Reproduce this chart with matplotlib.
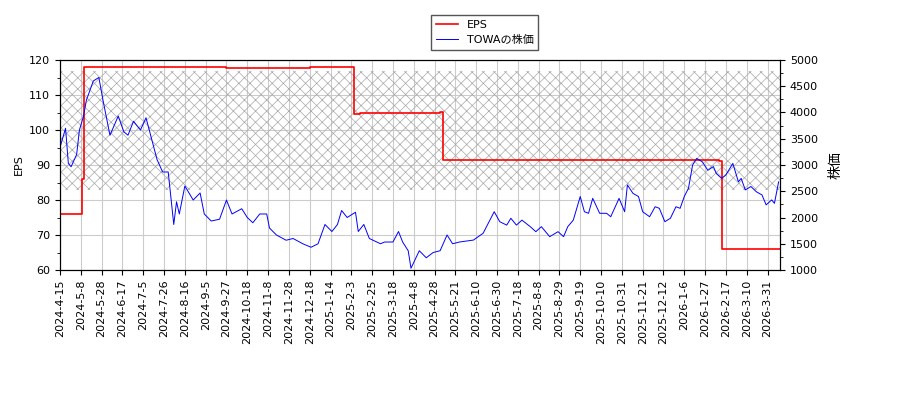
import matplotlib
matplotlib.use("Agg")
import matplotlib.pyplot as plt
from matplotlib.ticker import MultipleLocator

plt.rcParams['font.family'] = ['DejaVu Sans', 'Noto Sans CJK JP']
plt.rcParams['font.size'] = 8
plt.rcParams['hatch.linewidth'] = 0.5

tick_labels = ["2024-4-15","2024-5-8","2024-5-28","2024-6-17","2024-7-5","2024-7-26","2024-8-16",
               "2024-9-5","2024-9-27","2024-10-18","2024-11-8","2024-11-28","2024-12-18","2025-1-14",
               "2025-2-3","2025-2-25","2025-3-18","2025-4-8","2025-4-28","2025-5-21","2025-6-10",
               "2025-6-30","2025-7-18","2025-8-8","2025-8-29","2025-9-19","2025-10-10","2025-10-31",
               "2025-11-21","2025-12-12","2026-1-6","2026-1-27","2026-2-17","2026-3-10","2026-3-31"]
tick_step = 15  # trading days between labels

# stock price (trading-day index, yen)
price_day = [0,4,6,8,12,14,17,19,24,28,31,36,42,46,49,53,58,62,66,70,74,78,82,84,86,90,96,101,104,109,
             115,120,124,131,135,139,144,149,151,156,163,168,175,181,186,191,196,200,203,207,213,215,219,
             223,231,234,240,244,247,251,253,256,259,264,269,274,279,283,288,298,305,313,317,322,325,329,
             333,339,343,347,353,359,363,366,370,375,378,381,384,389,394,397,403,407,409,413,417,420,425,
             429,432,436,440,444,447,450,453,456,459,463,467,471,473,477,480,485,489,491,494,498,502,506,
             509,513,515,518]
price = [3333,3700,3033,2967,3200,3667,3933,4233,4600,4667,4233,3567,3933,3633,3567,3833,3667,3900,3500,
         3100,2867,2867,1867,2300,2067,2600,2333,2467,2067,1933,1967,2333,2067,2167,2000,1900,2067,2067,
         1800,1667,1567,1600,1500,1433,1500,1867,1733,1867,2133,2000,2100,1733,1867,1600,1500,1533,1533,
         1733,1533,1367,1033,1200,1367,1233,1333,1367,1667,1500,1533,1570,1700,2110,1920,1855,1985,1855,
         1950,1825,1730,1825,1635,1730,1635,1825,1950,2400,2110,2080,2365,2080,2080,2015,2365,2110,2620,
         2460,2400,2110,2015,2205,2175,1920,1985,2205,2175,2400,2555,3000,3125,3060,2900,2970,2840,2745,
         2810,3030,2680,2745,2525,2590,2490,2430,2240,2335,2270,2680]

# EPS (step series)
eps_day = [0,16,17,60,120,150,180,211,212,216,250,274,276,330,400,475,477,519]
eps = [76,86,118,118,117.8,117.6,118,118,104.5,105,104.8,105.2,91.5,91.3,91.4,91.2,66,66]

fig, ax = plt.subplots(figsize=(9, 4), dpi=100)
fig.subplots_adjust(left=60/900, right=780/900, top=1-60/400, bottom=1-270/400)
ax2 = ax.twinx()

xmax = 519
ax.fill_between([0, xmax], 83, 117, facecolor='none', edgecolor='#a8a8a8', hatch='xxx', linewidth=0)
l1, = ax.plot(eps_day, eps, color='red', drawstyle='steps-post', lw=1.2, label='EPS')
l2, = ax2.plot(price_day, price, color='blue', lw=0.7, label='TOWAの株価')

ax.set_xlim(0, xmax)
ax.set_ylim(60, 120)
ax2.set_ylim(1000, 5000)
ax.yaxis.set_minor_locator(MultipleLocator(5))
ax2.yaxis.set_minor_locator(MultipleLocator(250))
ax.set_xticks([i * tick_step for i in range(len(tick_labels))])
ax.set_xticklabels(tick_labels, rotation=90)
ax.grid(True, color='#cccccc', lw=0.8)
ax.set_axisbelow(True)
ax.set_ylabel('EPS')
ax2.set_ylabel('株価', fontsize=10, labelpad=8)
ax.legend([l1, l2], ['EPS', 'TOWAの株価'], loc='upper center', bbox_to_anchor=(0.59, 1.24),
          fancybox=False, edgecolor='#555555', framealpha=1)
fig.savefig('out.png')
